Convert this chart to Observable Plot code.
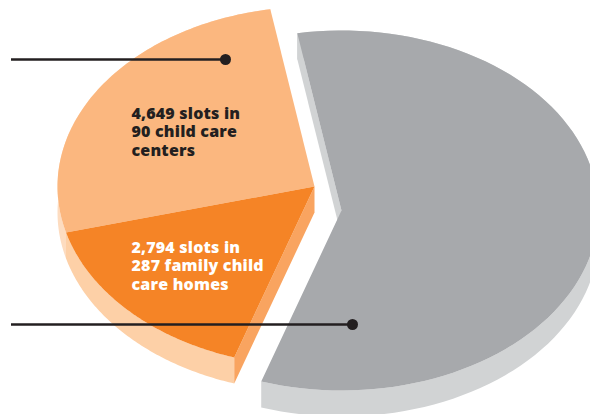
<!DOCTYPE html>
<html><head><meta charset="utf-8">
<script src="https://cdn.jsdelivr.net/npm/d3@7"></script>
<script src="https://cdn.jsdelivr.net/npm/@observablehq/plot@0.6"></script>
<style>html,body{margin:0;padding:0;background:#fff;overflow:hidden}svg{display:block}</style>
</head><body><div id="chart"></div>
<script>
const categories = ["child care centers", "family child care homes", "other"];
const slots = [4649, 2794, 10197];
const labelLines = ["4,649 slots in\n90 child care\ncenters", "2,794 slots in\n287 family child\ncare homes"];

const W = 590, H = 414;
const rx = 257, ry = 180;
const depth = 26 / ry;
const startDeg = -9.9;

const pie = d3.pie().sort(null).value(d => d)
  .startAngle(startDeg * Math.PI / 180)
  .endAngle((startDeg - 360) * Math.PI / 180);
const arcs = pie(slots);

// offset of each exploded slice, in radius units
const offsets = [[0, 0], [0, 0], [27 / rx, 24 / ry]];
const pt = (a, o) => [o[0] + Math.sin(a), o[1] - Math.cos(a)];
function rim(arc, o, n = 90) {
  return d3.range(n + 1).map(i => pt(arc.startAngle + (arc.endAngle - arc.startAngle) * i / n, o));
}
const shapes = [];
function add(id, fill, pts) { pts.forEach(p => shapes.push({id, fill, x: p[0], y: p[1]})); }
const down = (p) => [p[0], p[1] + depth];

const [lightA, darkA, grayA] = arcs;
const oG = offsets[2], oO = offsets[0];

// gray: outer wall, cut wall, top
add("gw", "#d1d3d4", [...rim(grayA, oG), ...rim(grayA, oG).reverse().map(down)]);
add("gc", "#d1d3d4", [pt(grayA.endAngle, oG), oG, down(oG), down(pt(grayA.endAngle, oG))]);
add("gt", "#a7a9ac", [oG, ...rim(grayA, oG)]);

// orange walls
add("lw", "#fddcc0", [...rim(lightA, oO), ...rim(lightA, oO).reverse().map(down)]);
add("dw", "#fdd0a7", [...rim(darkA, oO), ...rim(darkA, oO).reverse().map(down)]);
add("dc", "#f9a460", [oO, pt(darkA.endAngle, oO), down(pt(darkA.endAngle, oO)), down(oO)]);
// orange tops
add("lt", "#fbb77f", [oO, ...rim(lightA, oO)]);
add("dt", "#f58426", [oO, ...rim(darkA, oO)]);

const X = px => (px - 314) / rx, Y = py => (py - 186) / ry;
const leaders = [
  {x1: X(11), x2: X(225), y: Y(59)},
  {x1: X(11), x2: X(352), y: Y(324)}
];
const labels = [
  {text: labelLines[0], x: X(131), y: Y(105), fill: "#231f20"},
  {text: labelLines[1], x: X(131), y: Y(239), fill: "#ffffff"}
];

const chart = Plot.plot({
  width: W, height: H,
  margin: 0,
  x: {domain: [X(0), X(W)], range: [0, W], axis: null},
  y: {domain: [Y(0), Y(H)], range: [0, H], axis: null},
  style: {background: "#fff", overflow: "hidden", letterSpacing: "0.2px"},
  marks: [
    Plot.line(shapes, {x: "x", y: "y", z: "id", fill: "fill", stroke: null, curve: "linear", clip: true}),
    Plot.ruleY(leaders, {x1: "x1", x2: "x2", y: "y", stroke: "#231f20", strokeWidth: 2.4}),
    Plot.dot(leaders, {x: "x2", y: "y", r: 5.5, fill: "#231f20", stroke: null}),
    Plot.text(labels, {x: "x", y: "y", text: "text", fill: "fill", textAnchor: "start", lineAnchor: "top",
      fontFamily: "Open Sans", fontWeight: 800, fontSize: 16, lineHeight: 1.156})
  ]
});
document.getElementById("chart").append(chart);
</script></body></html>
